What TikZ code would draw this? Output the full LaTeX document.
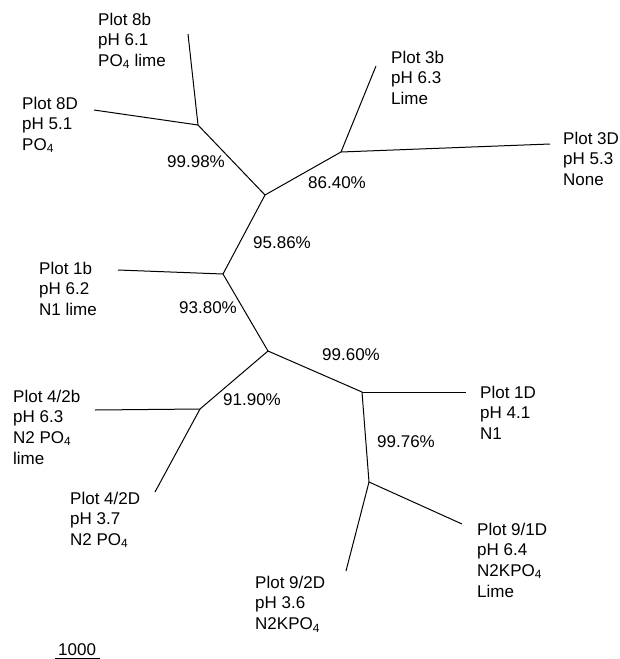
\documentclass[tikz,border=0pt]{standalone}
\usepackage{fontspec}
\setmainfont{Liberation Sans}
\newcommand{\lines}[1]{\begin{tabular}[t]{@{}l@{}}#1\end{tabular}}
\tikzset{
  br/.style={line width=1pt, draw=black},
  lbl/.style={anchor=base west, inner sep=0pt, font=\fontsize{17}{20.7}\selectfont},
}
\begin{document}
\begin{tikzpicture}[x=1pt, y=-1pt]
\useasboundingbox (0,0) rectangle (619,659);
% internal junctions
\coordinate (A) at (198,125);
\coordinate (B) at (265,195);
\coordinate (C) at (341,152);
\coordinate (D) at (223,274);
\coordinate (E) at (268,351);
\coordinate (F) at (200,409);
\coordinate (G) at (362,392);
\coordinate (H) at (369,482);
% leaf ends
\coordinate (e8b) at (188,34);
\coordinate (e8D) at (94,110);
\coordinate (e3b) at (376,66);
\coordinate (e3D) at (550,144);
\coordinate (e1b) at (118,270);
\coordinate (e42b) at (95,410);
\coordinate (e42D) at (155,492);
\coordinate (e1D) at (466,392);
\coordinate (e91D) at (462,524);
\coordinate (e92D) at (346,571);
% branches
\draw[br] (A) -- (e8b);
\draw[br] (A) -- (e8D);
\draw[br] (A) -- (B);
\draw[br] (B) -- (C);
\draw[br] (C) -- (e3b);
\draw[br] (C) -- (e3D);
\draw[br] (B) -- (D);
\draw[br] (D) -- (e1b);
\draw[br] (D) -- (E);
\draw[br] (E) -- (F);
\draw[br] (F) -- (e42b);
\draw[br] (F) -- (e42D);
\draw[br] (E) -- (G);
\draw[br] (G) -- (e1D);
\draw[br] (G) -- (H);
\draw[br] (H) -- (e91D);
\draw[br] (H) -- (e92D);
% leaf labels
\node[lbl] (l8b) at (98,25) {\lines{Plot 8b\\pH 6.1\\PO\textsubscript{4} lime}};
\node[lbl] (l8D) at (22,109) {\lines{Plot 8D\\pH 5.1\\PO\textsubscript{4}}};
\node[lbl] (l3b) at (391,63) {\lines{Plot 3b\\pH 6.3\\Lime}};
\node[lbl] (l3D) at (563,144) {\lines{Plot 3D\\pH 5.3\\None}};
\node[lbl] (l1b) at (39,274) {\lines{Plot 1b\\pH 6.2\\N1 lime}};
\node[lbl] (l42b) at (13,402) {\lines{Plot 4/2b\\pH 6.3\\N2 PO\textsubscript{4}\\lime}};
\node[lbl] (l1D) at (480,398) {\lines{Plot 1D\\pH 4.1\\N1}};
\node[lbl] (l42D) at (70,504) {\lines{Plot 4/2D\\pH 3.7\\N2 PO\textsubscript{4}}};
\node[lbl] (l92D) at (255,588) {\lines{Plot 9/2D\\pH 3.6\\N2KPO\textsubscript{4}}};
\node[lbl] (l91D) at (477,535) {\lines{Plot 9/1D\\pH 6.4\\N2KPO\textsubscript{4}\\Lime}};
% support values
\node[lbl] (p1) at (167,167) {99.98\%};
\node[lbl] (p2) at (308,188) {86.40\%};
\node[lbl] (p3) at (253,248) {95.86\%};
\node[lbl] (p4) at (179,313) {93.80\%};
\node[lbl] (p5) at (223,405) {91.90\%};
\node[lbl] (p6) at (322,360) {99.60\%};
\node[lbl] (p7) at (377,447) {99.76\%};
% scale bar
\coordinate (s1) at (55,658);
\coordinate (s2) at (100,658);
\draw[br] (s1) -- (s2);
\node[lbl] (sc) at (58,655) {1000};
\end{tikzpicture}
\end{document}
